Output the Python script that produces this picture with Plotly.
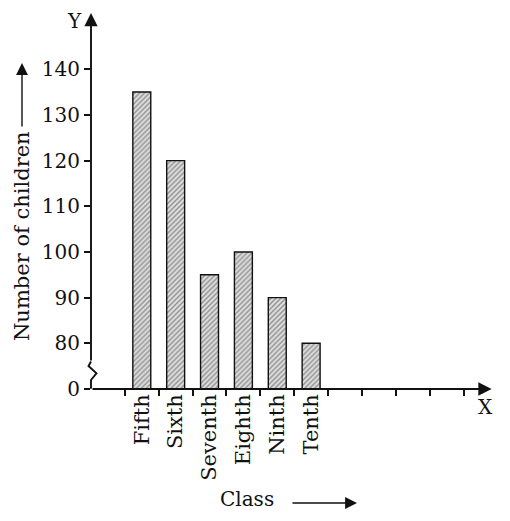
import plotly.graph_objects as go

# data
classes = ["Fifth", "Sixth", "Seventh", "Eighth", "Ninth", "Tenth"]
children = [135, 120, 95, 100, 90, 80]

# y axis is broken: the "0" sits one step below 80
y_tick_vals = [70, 80, 90, 100, 110, 120, 130, 140]
y_tick_text = ["0", "80", "90", "100", "110", "120", "130", "140"]
x_slots = list(range(1, 12))

# the page body has an 8px margin, so the figure is shrunk by it
PAD = 8
W, H = 510 - PAD, 521 - PAD
L, R, T, B = 91 - PAD, 16, 0, 132
FONT = "DejaVu Serif"
INK = "#111111"


def paper(px, py):
    """page pixel position -> paper coords (for decorations only)"""
    px, py = px - PAD, py - PAD
    return (px - L) / (W - L - R), (H - B - py) / (H - T - B)


def label(txt, px, py, size=20, angle=0):
    x, y = paper(px, py)
    fig.add_annotation(x=x, y=y, xref="paper", yref="paper", text=txt,
                       xanchor="center", yanchor="middle", textangle=angle,
                       showarrow=False, font=dict(size=size))


def arrow(head, dx, dy, width=1.4, size=1.7):
    x, y = paper(*head)
    fig.add_annotation(x=x, y=y, ax=dx, ay=dy, xref="paper", yref="paper",
                       text="", showarrow=True, arrowhead=2, arrowsize=size,
                       arrowwidth=width, arrowcolor=INK)


bar_x = [i + 1.5 for i in range(len(classes))]

fig = go.Figure()
fig.add_trace(go.Bar(
    x=bar_x, y=children, width=0.53,
    marker=dict(color="white",
                line=dict(color=INK, width=1.4),
                pattern=dict(shape="/", size=3.5, solidity=0.4,
                             fgcolor="#3a3a3a", bgcolor="#e0e0e0")),
    showlegend=False,
))

xr = [0, 11.9]
yr = [70, 153.4]
tick_style = dict(ticklen=6, tickwidth=1.6, tickcolor=INK)

fig.update_layout(
    width=W, height=H,
    margin=dict(l=L, r=R, t=T, b=B),
    paper_bgcolor="white", plot_bgcolor="white",
    font=dict(family=FONT, size=20, color=INK),
    xaxis=dict(range=xr, showgrid=False, zeroline=False, showline=False,
               automargin=False, tickmode="array", tickvals=bar_x,
               ticktext=classes, ticks="", tickangle=-90,
               tickfont=dict(size=21),
               minor=dict(tickmode="array", tickvals=x_slots, ticks="outside",
                          showgrid=False, **tick_style)),
    xaxis2=dict(range=xr, overlaying="x", anchor="y", side="bottom",
                showgrid=False, zeroline=False, showline=False,
                automargin=False, tickmode="array", tickvals=x_slots,
                ticks="inside", showticklabels=False, **tick_style),
    yaxis=dict(range=yr, showgrid=False, zeroline=False, showline=False,
               automargin=False, tickmode="array", tickvals=y_tick_vals,
               ticktext=y_tick_text, ticks="outside", **tick_style),
    yaxis2=dict(range=yr, overlaying="y", anchor="x", side="left",
                showgrid=False, zeroline=False, showline=False,
                automargin=False, tickmode="array", tickvals=y_tick_vals[1:],
                ticks="inside", showticklabels=False, **tick_style),
)

# axis lines with arrow heads
fig.add_annotation(x=11.83, y=70, ax=0, ay=70, xref="x", yref="y",
                   axref="x", ayref="y", text="", showarrow=True,
                   arrowhead=2, arrowsize=1.4, arrowwidth=1.9, arrowcolor=INK)
fig.add_annotation(x=0, y=152.3, ax=0, ay=75.9, xref="x", yref="y",
                   axref="x", ayref="y", text="", showarrow=True,
                   arrowhead=2, arrowsize=1.4, arrowwidth=1.9, arrowcolor=INK)

# bottom stub of y axis plus the break zig-zag
pts = [(91, 388.7), (91, 380), (96.5, 373.3), (88.5, 366), (91, 361.5)]
path = "M " + " L ".join("%.4f,%.4f" % paper(px, py) for px, py in pts)
fig.add_shape(type="path", path=path, xref="paper", yref="paper",
              line=dict(color=INK, width=1.9))

# axis letters and titles
label("Y", 74, 21)
label("X", 485, 407)
label("Class", 247, 499, size=20)
arrow((357, 503), -66, 0)
label("Number of children", 22, 236, size=21, angle=-90)
arrow((22, 63), 0, 65)

fig.write_html("out.html")
